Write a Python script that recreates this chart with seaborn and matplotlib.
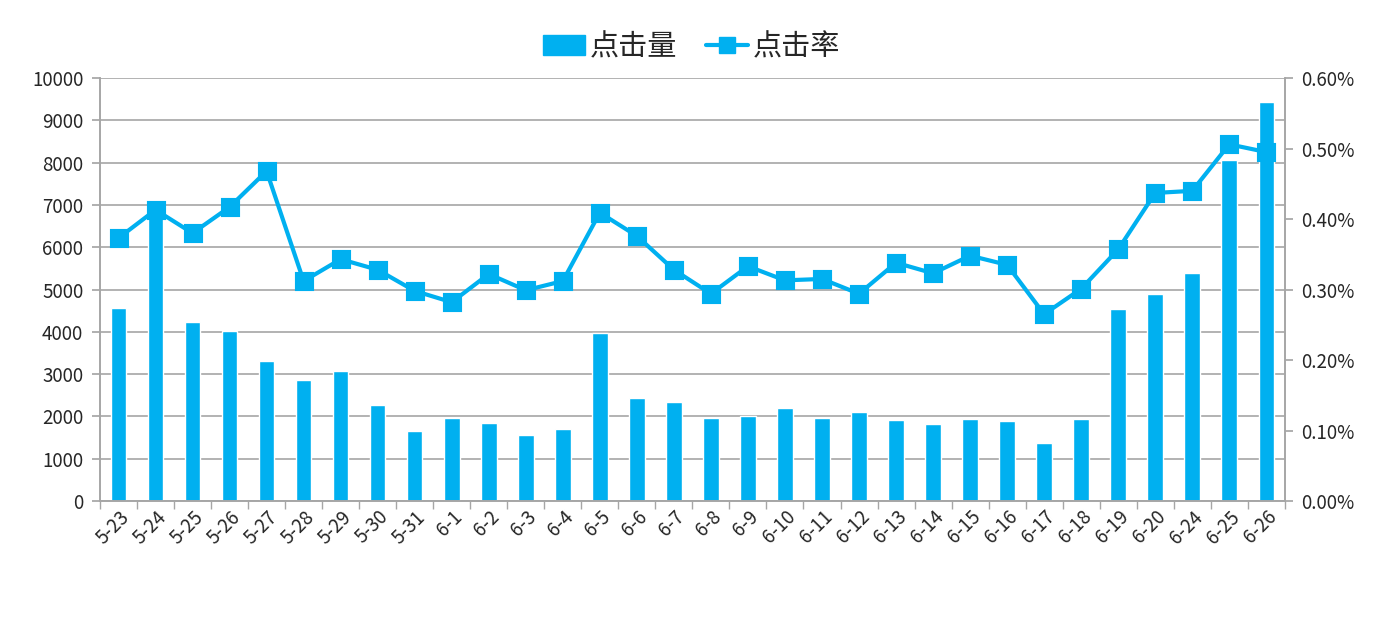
import numpy as np
import pandas as pd
import matplotlib
matplotlib.use("Agg")
import matplotlib.pyplot as plt
from matplotlib.patches import Patch
from matplotlib.lines import Line2D
from matplotlib.ticker import PercentFormatter, FixedLocator
import seaborn as sns

# data
dates = ['5-23', '5-24', '5-25', '5-26', '5-27', '5-28', '5-29', '5-30', '5-31',
         '6-1', '6-2', '6-3', '6-4', '6-5', '6-6', '6-7', '6-8', '6-9', '6-10',
         '6-11', '6-12', '6-13', '6-14', '6-15', '6-16', '6-17', '6-18', '6-19',
         '6-20', '6-24', '6-25', '6-26']
clicks = [4560, 7020, 4240, 4030, 3300, 2870, 3080, 2260, 1660,
          1970, 1850, 1550, 1710, 3980, 2440, 2330, 1970, 2020, 2210,
          1970, 2110, 1920, 1830, 1950, 1880, 1360, 1950, 4530,
          4900, 5380, 8060, 9440]
click_rate = [0.00373, 0.00413, 0.00380, 0.00417, 0.00468, 0.00312, 0.00343, 0.00328, 0.00298,
              0.00282, 0.00322, 0.00299, 0.00312, 0.00409, 0.00376, 0.00328, 0.00294, 0.00333, 0.00313,
              0.00315, 0.00294, 0.00338, 0.00323, 0.00348, 0.00335, 0.00265, 0.00301, 0.00357,
              0.00437, 0.00440, 0.00506, 0.00495]

blue = '#00B0F0'
grid_c = '#A6A6A6'

sns.set_theme(style='white')
plt.rcParams['font.family'] = ['Noto Sans CJK SC', 'DejaVu Sans']

df = pd.DataFrame({'date': dates, 'clicks': clicks, 'rate': click_rate})

fig = plt.figure(figsize=(13.83, 6.26), dpi=100)
ax = fig.add_axes([0.0723, 0.1997, 0.8567, 0.6756])

sns.barplot(data=df, x='date', y='clicks', color=blue, saturation=1, width=0.42, ax=ax)
ax.set_ylim(0, 10000)
ax.set_yticks(range(0, 10001, 1000))
ax.yaxis.grid(True, color=grid_c, linewidth=1.2)
ax.set_axisbelow(True)

ax2 = ax.twinx()
sns.pointplot(data=df, x='date', y='rate', color=blue, markers='s', markersize=11,
              linewidth=3, ax=ax2)
ax2.set_ylim(0, 0.006)
ax2.set_yticks(np.arange(0, 0.00601, 0.001))
ax2.yaxis.set_major_formatter(PercentFormatter(xmax=1, decimals=2))
ax.set_xlim(-0.5, len(dates) - 0.5)
ax2.set_xlim(-0.5, len(dates) - 0.5)

for a in (ax, ax2):
    a.set_xlabel('')
    a.set_ylabel('')
    for s in a.spines.values():
        s.set_visible(False)
    for s in ('left', 'right', 'bottom'):
        a.spines[s].set_visible(True)
        a.spines[s].set_color(grid_c)
        a.spines[s].set_linewidth(1.2)

ax.tick_params(axis='y', length=6, color=grid_c, labelsize=13.5, pad=6)
ax2.tick_params(axis='y', length=6, color=grid_c, labelsize=13.5, pad=6)
ax.tick_params(axis='x', which='major', length=0, labelsize=13.5, pad=4)
ax.xaxis.set_minor_locator(FixedLocator(np.arange(-0.5, len(dates), 1.0)))
ax.tick_params(axis='x', which='minor', length=6, color=grid_c, bottom=True)
for lbl in ax.get_xticklabels():
    lbl.set_rotation(45)
    lbl.set_ha('right')
    lbl.set_rotation_mode('anchor')

handles = [Patch(facecolor=blue, edgecolor=blue),
           Line2D([0], [0], color=blue, linewidth=3, marker='s', markersize=11)]
fig.legend(handles, ['点击量', '点击率'], loc='center', bbox_to_anchor=(0.5, 0.925),
           ncol=2, frameon=False, fontsize=21, handlelength=1.45, handletextpad=0.15,
           columnspacing=1.0)

fig.savefig('out.png', dpi=100)
